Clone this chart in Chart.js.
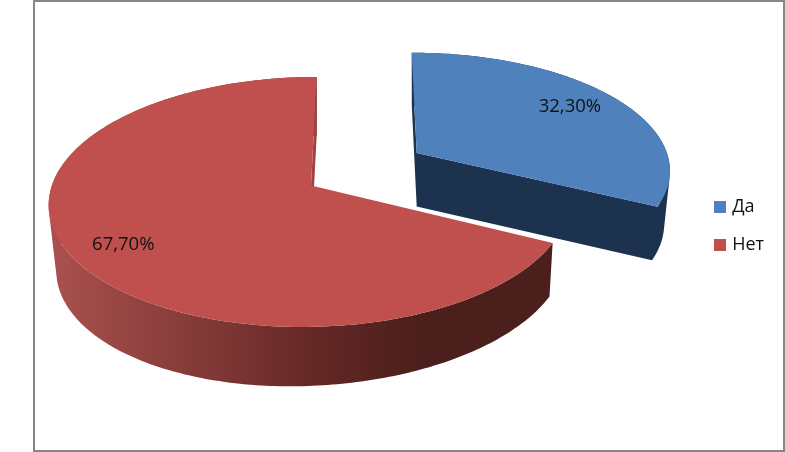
<!DOCTYPE html>
<html>
<head>
<meta charset="utf-8">
<style>html,body{margin:0;padding:0;background:#fff}canvas{display:block}</style>
<script src="https://cdn.jsdelivr.net/npm/chart.js@4"></script>
</head>
<body>
<canvas id="c" width="785" height="452"></canvas>
<script>
const categories = ['Да', 'Нет'];
const shares = [32.3, 67.7];
const topColors = ['#4f81bd', '#c0504d'];
const edgeColors = ['#1d324e', '#a04240'];
const FONT = '"Open Sans", sans-serif';

// 3D view of each slice: projective placement of the unit disc on the page
const views = [
  {x0:416.7, y0:153,   R:248.5, Ry:113.5, k:.132, m:-.0067, t:5.66, depth:53.5, slope:0, shrinkL:.977, shrinkR:.977, labelR:.785, labelTurn:-.02},
  {x0:311,   y0:185.5, R:258,   Ry:122.8, k:.132, m:.0043,  t:-6.5, depth:59,   slope:6, shrinkL:.971, shrinkR:.987, labelR:.81,  labelTurn:-.04}
];
function topPoint(p,a,r){
  const u=Math.cos(a)*r, v=Math.sin(a)*r, w=1-p.k*v+p.m*u;
  return [p.x0+(p.R*u+p.t*v)/w, p.y0+p.Ry*v/w];
}
function basePoint(p,q){
  const dx=q[0]-p.x0;
  return [p.x0+dx*(dx<0?p.shrinkL:p.shrinkR), q[1]+p.depth-p.slope*dx/260];
}
// every piece is wound the same way, so overlapping pieces never cancel in one path
function trace(ctx,pts){
  let area=0;
  pts.forEach((q,i)=>{const n=pts[(i+1)%pts.length];area+=q[0]*n[1]-n[0]*q[1];});
  const list=area<0?pts.slice().reverse():pts;
  list.forEach((q,i)=>i?ctx.lineTo(q[0],q[1]):ctx.moveTo(q[0],q[1]));
  ctx.closePath();
}
function poly(ctx,pts,fill){
  ctx.beginPath(); trace(ctx,pts); ctx.fillStyle=fill; ctx.fill();
}
function rim(p,a0,a1){
  const n=Math.max(2,Math.ceil((a1-a0)*60)),out=[];
  for(let i=0;i<=n;i++) out.push(topPoint(p,a0+(a1-a0)*i/n,1));
  return out;
}
const pie3d = {
  id:'pie3d',
  beforeDraw(chart){
    const ctx=chart.ctx;
    ctx.save();
    ctx.fillStyle='#fff'; ctx.fillRect(0,0,chart.width,chart.height);
    ctx.strokeStyle='#868686'; ctx.lineWidth=2;
    ctx.strokeRect(34,1,750,450);
    ctx.restore();
  },
  beforeDatasetDraw(chart,args){
    const ctx=chart.ctx, arcs=args.meta.data;
    ctx.save();
    arcs.forEach((arc,i)=>{
      const p=views[i], a0=arc.startAngle, a1=arc.endAngle;
      const r=rim(p,a0,a1), A=[p.x0,p.y0];
      const first=r[0], last=r[r.length-1];
      const startWall=[A,first,basePoint(p,first),basePoint(p,A)];
      const endWall=[A,last,basePoint(p,last),basePoint(p,A)];
      let wall=edgeColors[i];
      if(i===1){
        wall=ctx.createLinearGradient(50,0,420,0);
        wall.addColorStop(0,'#aa514e');
        wall.addColorStop(.73,'#632725');
        wall.addColorStop(1,'#4b1f1c');
      }
      // each rim step is swept down to the base, so the silhouette stays straight at the sides
      ctx.beginPath();
      for(let j=0;j<r.length-1;j++){
        trace(ctx,[r[j],r[j+1],basePoint(p,r[j+1]),basePoint(p,r[j])]);
      }
      if(i===0){ trace(ctx,startWall); trace(ctx,endWall); }
      ctx.fillStyle=wall; ctx.fill();
      // the narrow cut of the large slice is lighter and goes over its curved wall
      if(i===1) poly(ctx,endWall,edgeColors[i]);
      poly(ctx,[A].concat(r),topColors[i]);
    });
    ctx.fillStyle='#111';
    ctx.font='18.5px '+FONT;
    ctx.textAlign='center'; ctx.textBaseline='middle';
    arcs.forEach((arc,i)=>{
      const q=topPoint(views[i],(arc.startAngle+arc.endAngle)/2+views[i].labelTurn,views[i].labelR);
      ctx.fillText(shares[i].toFixed(2).replace('.',',')+'%',q[0],q[1]);
    });
    ctx.restore();
    return false;
  }
};
function swatch(color){
  const s=document.createElement('canvas'); s.width=12; s.height=12;
  const g=s.getContext('2d'); g.fillStyle=color; g.fillRect(0,0,12,12);
  return s;
}
new Chart(document.getElementById('c'),{
  type:'pie',
  data:{labels:categories,datasets:[{data:shares,backgroundColor:topColors,borderWidth:0}]},
  options:{
    responsive:false,animation:false,
    layout:{padding:{right:11}},
    plugins:{
      tooltip:{enabled:false},
      legend:{
        position:'right',
        labels:{
          usePointStyle:true,pointStyleWidth:6,boxHeight:12,padding:20,color:'#111',
          font:{family:FONT,size:18,lineHeight:1.2},
          generateLabels:c=>categories.map((t,i)=>({text:t,pointStyle:swatch(topColors[i]),fontColor:'#111',index:i,hidden:false,lineWidth:0}))
        }
      }
    }
  },
  plugins:[pie3d]
});
</script>
</body>
</html>
